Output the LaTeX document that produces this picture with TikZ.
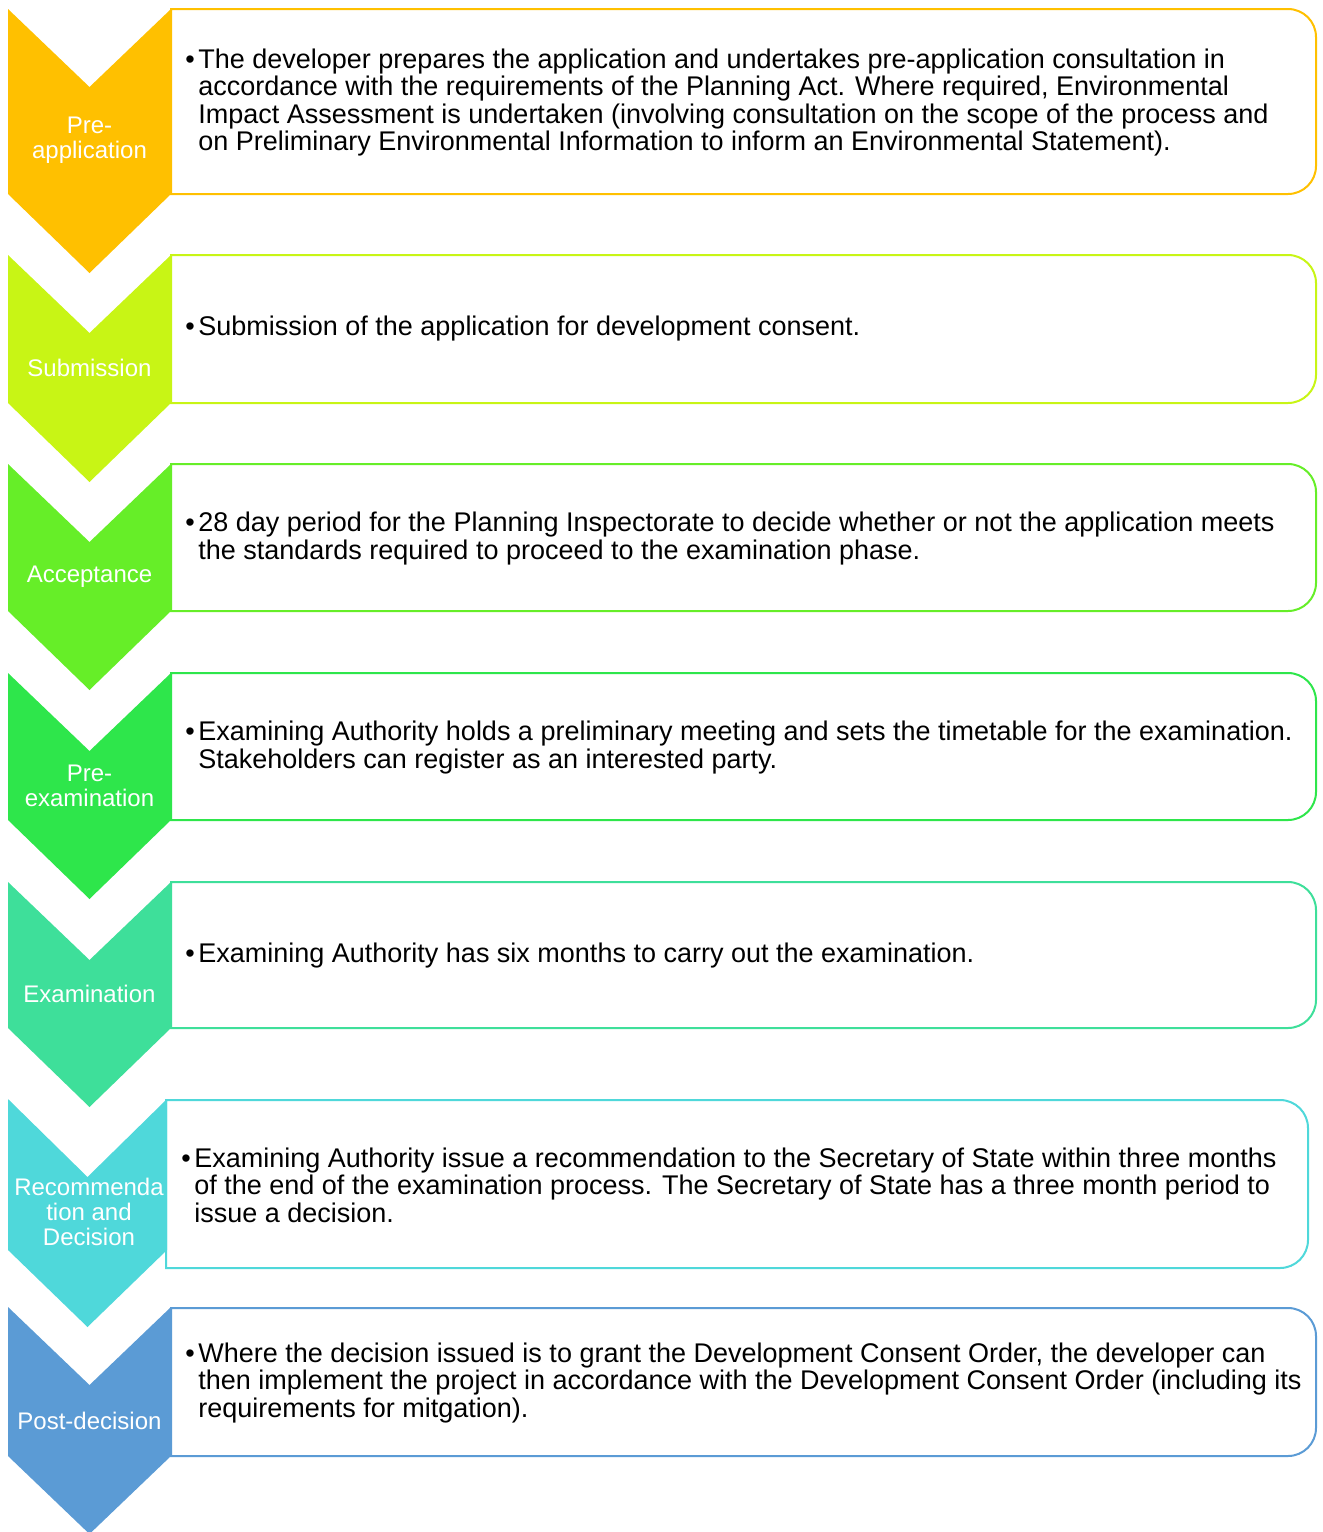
\documentclass[tikz,border=0pt]{standalone}
\usepackage{fontspec}
\setmainfont{Liberation Sans}
\definecolor{preapp}{HTML}{FFC000}
\definecolor{submit}{HTML}{C8F515}
\definecolor{accept}{HTML}{66EE28}
\definecolor{preexam}{HTML}{2EE64B}
\definecolor{exam}{HTML}{3EDF9A}
\definecolor{recdec}{HTML}{4FD8DA}
\definecolor{postdec}{HTML}{5B9BD5}
\newcommand{\itembul}{\makebox[6.5pt][l]{\textbullet}}
\newcommand{\itemgap}{\hspace*{6.5pt}}
\begin{document}
\begin{tikzpicture}[x=0.5pt,y=-0.5pt,
  stage/.style={text=white, align=center, inner sep=0pt, font=\fontsize{12}{12.6}\selectfont},
  desc/.style={anchor=west, align=left, inner sep=0pt, text=black, font=\fontsize{13.5}{13.75}\selectfont},
  panel/.style={draw=#1, fill=white, line width=1pt}]
 \useasboundingbox (0,0) rectangle (1323,1532);

 \draw[panel=preapp] (171,9) -- (700,9) [rounded corners=14pt] -- (1316,9) -- (1316,194) -- (700,194) [sharp corners] -- (171,194) -- cycle;
 \fill[preapp] (8,9) -- (89.5,87) -- (171,9) -- (171,194) -- (89.5,273) -- (8,194) -- cycle;
 \node[stage] (s1) at (89.5,140.5) {Pre-\\application};
 \node[desc] (d1) at (185,102.5) {\itembul The developer prepares the application and undertakes pre-application consultation in\\
  \itemgap accordance with the requirements of the Planning Act. Where required, Environmental\\
  \itemgap Impact Assessment is undertaken (involving consultation on the scope of the process and\\
  \itemgap on Preliminary Environmental Information to inform an Environmental Statement).};

 \draw[panel=submit] (171,255) -- (700,255) [rounded corners=14pt] -- (1316,255) -- (1316,403) -- (700,403) [sharp corners] -- (171,403) -- cycle;
 \fill[submit] (8,255) -- (89.5,333) -- (171,255) -- (171,403) -- (89.5,482) -- (8,403) -- cycle;
 \node[stage] (s2) at (89.5,368) {Submission};
 \node[desc] (d2) at (185,329) {\itembul Submission of the application for development consent.};

 \draw[panel=accept] (171,464) -- (700,464) [rounded corners=14pt] -- (1316,464) -- (1316,611) -- (700,611) [sharp corners] -- (171,611) -- cycle;
 \fill[accept] (8,464) -- (89.5,542) -- (171,464) -- (171,611) -- (89.5,690) -- (8,611) -- cycle;
 \node[stage] (s3) at (89.5,576.5) {Acceptance};
 \node[desc] (d3) at (185,538.5) {\itembul 28 day period for the Planning Inspectorate to decide whether or not the application meets\\
  \itemgap the standards required to proceed to the examination phase.};

 \draw[panel=preexam] (171,673) -- (700,673) [rounded corners=14pt] -- (1316,673) -- (1316,820) -- (700,820) [sharp corners] -- (171,820) -- cycle;
 \fill[preexam] (8,673) -- (89.5,751) -- (171,673) -- (171,820) -- (89.5,899) -- (8,820) -- cycle;
 \node[stage] (s4) at (89.5,785.5) {Pre-\\examination};
 \node[desc] (d4) at (185,747.5) {\itembul Examining Authority holds a preliminary meeting and sets the timetable for the examination.\\
  \itemgap Stakeholders can register as an interested party.};

 \draw[panel=exam] (171,882) -- (700,882) [rounded corners=14pt] -- (1316,882) -- (1316,1028) -- (700,1028) [sharp corners] -- (171,1028) -- cycle;
 \fill[exam] (8,882) -- (89.5,960) -- (171,882) -- (171,1028) -- (89.5,1107) -- (8,1028) -- cycle;
 \node[stage] (s5) at (89.5,994) {Examination};
 \node[desc] (d5) at (185,956) {\itembul Examining Authority has six months to carry out the examination.};

 \draw[panel=recdec] (166,1100) -- (700,1100) [rounded corners=14pt] -- (1308,1100) -- (1308,1268) -- (700,1268) [sharp corners] -- (166,1268) -- cycle;
 \fill[recdec] (8,1099) -- (87.5,1177) -- (167,1099) -- (167,1250) -- (87.5,1327) -- (8,1250) -- cycle;
 \node[stage] (s6) at (89,1212) {Recommenda\\tion and\\Decision};
 \node[desc] (d6) at (181,1185) {\itembul Examining Authority issue a recommendation to the Secretary of State within three months\\
  \itemgap of the end of the examination process. The Secretary of State has a three month period to\\
  \itemgap issue a decision.};

 \draw[panel=postdec] (171,1308) -- (700,1308) [rounded corners=14pt] -- (1316,1308) -- (1316,1456) -- (700,1456) [sharp corners] -- (171,1456) -- cycle;
 \fill[postdec] (8,1307) -- (89.5,1385) -- (171,1307) -- (171,1456) -- (89.5,1534) -- (8,1456) -- cycle;
 \node[stage] (s7) at (89.5,1420.5) {Post-decision};
 \node[desc] (d7) at (185,1383) {\itembul Where the decision issued is to grant the Development Consent Order, the developer can\\
  \itemgap then implement the project in accordance with the Development Consent Order (including its\\
  \itemgap requirements for mitgation).};
\end{tikzpicture}
\end{document}
